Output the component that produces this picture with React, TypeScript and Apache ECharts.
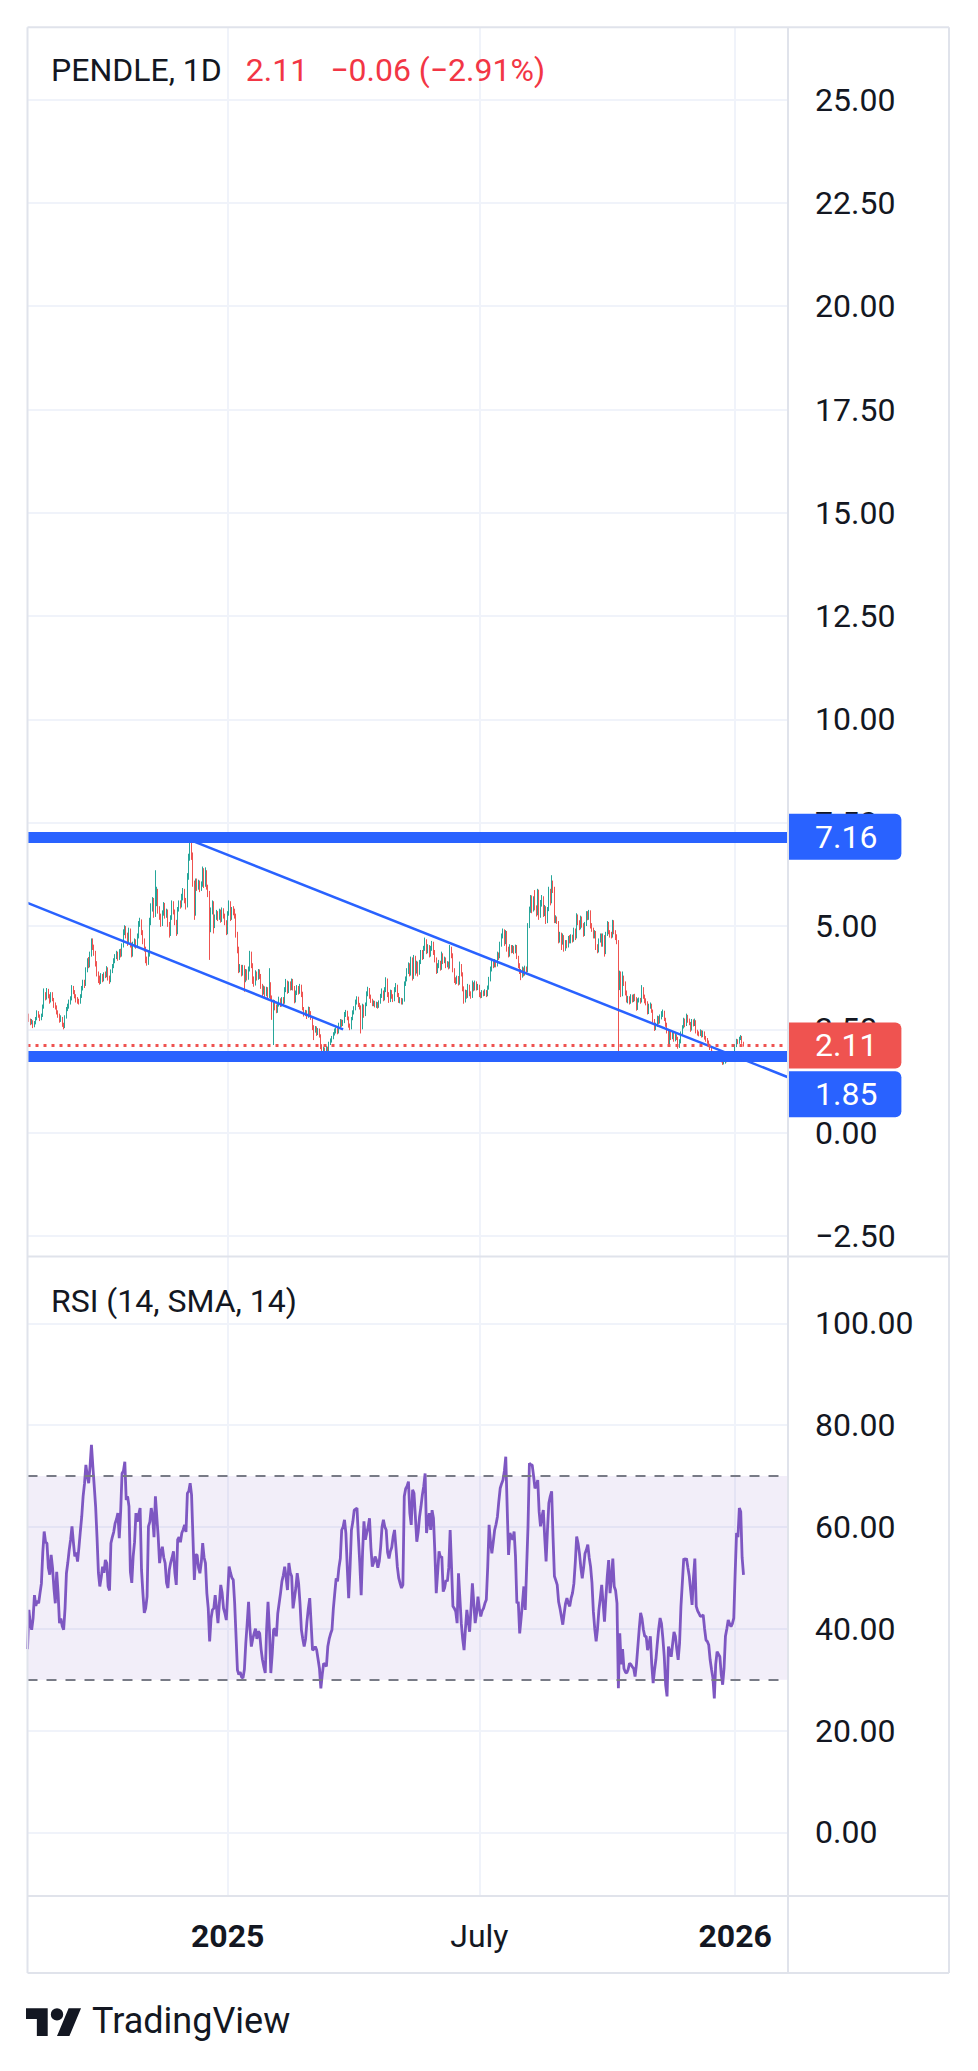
import React, { useEffect, useRef } from "react";
import * as echarts from "echarts";

// ---------- data ----------
const START_UTC = Date.UTC(2024, 7, 10); // first visible day
const AXIS_DAYS = 548; // visible time span incl. empty space on the right
const FIRST_OPEN = 2.8;

const closes = [
  2.85,2.72,2.66,2.70,2.58,2.65,2.76,2.90,2.82,2.75,
  2.84,3.05,3.35,3.28,3.45,3.30,3.18,3.36,3.22,3.10,
  3.05,2.92,2.85,2.72,2.78,2.62,2.55,2.80,2.98,3.05,
  3.15,3.25,3.52,3.40,3.30,3.22,3.18,3.15,3.30,3.48,
  3.62,3.58,3.95,4.15,4.05,4.30,4.62,4.50,4.35,4.10,
  3.85,3.72,3.65,3.78,3.70,3.82,3.80,3.98,3.75,3.68,
  3.90,4.02,4.15,4.25,4.32,4.22,4.38,4.30,4.52,4.85,
  4.95,4.78,4.60,4.90,4.55,4.30,4.55,4.62,4.52,4.75,
  5.05,5.12,4.85,4.65,4.45,4.20,4.10,4.30,5.10,5.45,
  5.62,5.30,5.55,5.85,5.40,5.25,5.05,5.30,5.50,5.25,
  5.35,5.05,4.80,5.20,5.55,5.35,5.10,4.85,5.40,5.55,
  5.50,5.70,5.85,5.62,5.48,6.20,6.65,6.95,6.70,6.05,
  5.30,6.05,5.95,6.05,5.90,6.00,6.35,6.00,6.30,5.95,
  5.80,4.95,5.35,5.55,5.00,5.20,5.30,5.20,5.35,5.15,
  5.38,5.25,5.10,4.85,5.30,5.55,5.20,5.40,5.35,5.25,
  4.80,4.45,3.95,4.00,3.85,4.00,3.70,3.90,3.75,3.95,
  4.35,4.05,3.70,3.60,3.85,3.75,3.90,3.80,3.55,3.40,
  3.50,3.35,3.48,3.30,3.60,3.28,2.90,3.15,3.05,2.95,
  3.10,3.20,3.10,3.22,3.15,3.45,3.65,3.42,3.60,3.50,
  3.68,3.50,3.20,3.38,3.50,3.40,3.55,3.35,3.00,2.88,
  2.92,2.82,3.00,2.90,2.78,2.55,2.48,2.52,2.40,2.48,
  2.35,2.10,1.95,2.02,2.00,2.05,1.98,2.15,2.22,2.30,
  2.38,2.45,2.50,2.42,2.60,2.70,2.62,2.68,2.85,2.92,
  2.78,2.60,2.52,2.75,2.90,3.00,3.15,3.25,3.10,3.05,
  2.55,3.05,2.85,3.10,3.35,3.48,3.30,3.20,3.12,3.15,
  3.08,3.12,3.05,3.15,3.30,3.40,3.25,3.45,3.70,3.35,
  3.20,3.40,3.30,3.22,3.45,3.55,3.35,3.20,3.22,3.15,
  3.20,3.60,3.70,3.90,4.05,3.85,4.20,3.75,4.25,3.90,
  4.10,3.85,4.12,4.35,4.25,4.45,4.65,4.40,4.50,4.30,
  4.45,4.58,4.38,4.20,3.90,4.05,4.12,3.98,4.30,4.15,
  4.20,4.05,4.10,4.00,4.45,4.30,3.95,3.70,3.65,3.75,
  3.62,4.05,3.85,3.50,3.20,3.40,3.30,3.55,3.38,3.30,
  3.60,3.48,3.62,3.50,3.55,3.35,3.30,3.40,3.35,3.42,
  3.32,3.50,3.70,3.95,4.10,4.05,4.15,4.05,4.30,4.25,
  4.55,4.75,4.88,4.60,4.85,4.45,4.30,4.50,4.40,4.48,
  4.38,4.50,4.25,4.05,3.90,3.80,3.95,3.85,3.98,3.90,
  5.00,5.40,5.70,5.40,5.65,5.45,5.30,5.85,5.25,5.55,
  5.70,5.30,5.45,5.10,5.40,5.85,5.60,6.05,5.90,5.15,
  5.20,5.10,4.65,4.80,4.60,4.75,4.45,4.60,4.52,4.70,
  4.62,4.75,4.65,4.90,4.72,5.25,5.10,4.95,5.20,5.00,
  4.80,5.05,5.30,5.20,5.35,5.00,4.92,4.75,4.85,4.50,
  4.40,4.65,4.78,4.55,4.75,4.35,4.80,5.05,4.85,4.80,
  4.75,5.10,4.85,4.75,4.62,3.55,3.85,3.35,3.75,3.62,
  3.40,3.20,3.25,3.15,3.30,3.20,3.30,3.25,3.00,3.20,
  3.22,3.18,3.50,3.30,3.20,3.15,2.90,3.05,3.10,2.95,
  2.72,2.52,2.60,2.78,2.68,2.80,2.85,2.92,2.75,2.62,
  2.45,2.12,2.45,2.30,2.40,2.25,2.35,2.30,2.08,2.20,
  2.40,2.55,2.72,2.60,2.82,2.72,2.65,2.50,2.70,2.62,
  2.70,2.45,2.40,2.38,2.45,2.35,2.42,2.30,2.25,2.20,
  2.12,2.05,1.95,1.85,1.80,1.90,1.82,1.78,1.88,1.75,
  1.68,1.70,1.78,1.74,1.82,1.85,1.88,1.92,1.90,2.10,
  2.22,2.18,2.28,2.32,2.17,2.11,
];

const highs = [
  2.92,2.88,2.76,2.75,2.72,2.70,2.80,2.96,2.94,2.86,
  2.88,3.10,3.49,3.40,3.50,3.48,3.35,3.40,3.40,3.26,
  3.15,3.08,2.96,2.88,2.84,2.80,2.66,2.84,3.04,3.12,
  3.22,3.30,3.57,3.55,3.45,3.35,3.28,3.24,3.35,3.55,
  3.70,3.70,4.00,4.22,4.25,4.38,4.70,4.70,4.55,4.40,
  4.15,3.90,3.80,3.86,3.84,3.88,3.90,4.03,4.00,3.80,
  3.95,4.08,4.22,4.32,4.40,4.38,4.44,4.45,4.58,4.92,
  5.02,5.00,4.84,4.96,4.94,4.60,4.62,4.70,4.68,4.82,
  5.12,5.20,5.16,4.90,4.70,4.50,4.26,4.38,5.20,5.55,
  5.70,5.68,6.35,5.95,5.90,5.48,5.30,5.38,5.58,5.56,
  5.42,5.40,5.10,5.26,5.62,5.60,5.40,5.15,5.46,5.62,
  5.62,5.78,5.92,5.90,5.68,6.28,6.75,7.05,7.12,6.78,
  6.10,6.15,6.15,6.12,6.10,6.08,6.44,6.40,6.42,6.35,
  6.00,5.85,5.45,5.62,5.60,5.28,5.39,5.36,5.42,5.40,
  5.45,5.43,5.30,5.14,5.36,5.62,5.60,5.46,5.48,5.42,
  5.30,4.86,4.50,4.08,4.06,4.06,4.05,3.96,3.95,4.02,
  4.40,4.38,4.10,3.78,3.93,3.90,3.96,3.95,3.84,3.60,
  3.56,3.54,3.53,3.52,3.98,3.64,3.32,3.22,3.21,3.10,
  3.16,3.29,3.25,3.28,3.28,3.52,3.72,3.68,3.66,3.66,
  3.73,3.72,3.55,3.44,3.57,3.55,3.60,3.58,3.41,3.04,
  2.97,2.96,3.05,3.04,2.94,2.80,2.60,2.58,2.57,2.53,
  2.52,2.38,2.14,2.08,2.06,2.10,2.08,2.20,2.28,2.34,
  2.43,2.52,2.55,2.53,2.66,2.75,2.74,2.73,2.92,2.97,
  2.95,2.81,2.64,2.80,2.96,3.06,3.22,3.30,3.29,3.14,
  3.08,3.12,3.10,3.15,3.42,3.53,3.50,3.34,3.24,3.20,
  3.19,3.17,3.16,3.20,3.36,3.49,3.44,3.52,3.76,3.73,
  3.40,3.46,3.45,3.35,3.52,3.62,3.58,3.38,3.28,3.26,
  3.25,3.66,3.78,3.98,4.12,4.10,4.26,4.24,4.30,4.28,
  4.16,4.14,4.18,4.42,4.42,4.52,4.72,4.68,4.56,4.54,
  4.52,4.64,4.62,4.42,4.24,4.10,4.18,4.16,4.38,4.34,
  4.26,4.24,4.15,4.14,4.54,4.50,4.34,3.98,3.76,3.80,
  3.79,4.14,4.08,3.88,3.54,3.46,3.45,3.60,3.58,3.42,
  3.68,3.64,3.68,3.66,3.60,3.58,3.40,3.45,3.44,3.47,
  3.45,3.56,3.77,4.02,4.18,4.16,4.20,4.18,4.38,4.36,
  4.62,4.82,4.94,4.92,4.90,4.88,4.50,4.56,4.54,4.54,
  4.52,4.55,4.54,4.28,4.10,3.96,4.02,4.00,4.04,4.02,
  5.07,5.47,5.75,5.74,5.72,5.87,5.50,5.90,5.88,5.63,
  5.75,5.72,5.51,5.48,5.46,5.95,5.90,6.23,6.10,5.95,
  5.26,5.23,5.12,4.86,4.84,4.82,4.78,4.66,4.66,4.76,
  4.78,4.80,4.79,4.96,4.94,5.31,5.28,5.14,5.25,5.23,
  5.07,5.10,5.36,5.36,5.39,5.38,5.07,4.96,4.90,4.88,
  4.56,4.70,4.82,4.82,4.82,4.78,4.86,5.12,5.10,4.90,
  4.86,5.15,5.14,4.90,4.80,4.66,3.92,3.90,3.90,3.80,
  3.66,3.44,3.31,3.30,3.35,3.34,3.35,3.36,3.28,3.25,
  3.27,3.26,3.57,3.52,3.34,3.25,3.18,3.12,3.15,3.12,
  2.98,2.75,2.66,2.83,2.82,2.86,2.94,2.98,2.95,2.78,
  2.66,2.48,2.50,2.48,2.46,2.43,2.40,2.38,2.32,2.26,
  2.45,2.60,2.78,2.76,2.88,2.85,2.76,2.68,2.75,2.74,
  2.76,2.72,2.49,2.45,2.50,2.48,2.47,2.45,2.34,2.29,
  2.23,2.15,2.08,1.98,1.89,1.94,1.93,1.86,1.92,1.90,
  1.78,1.74,1.82,1.81,1.86,1.89,1.92,1.96,1.95,2.14,
  2.27,2.26,2.32,2.36,2.34,2.20,
];

const lows = [
  2.74,2.68,2.60,2.62,2.53,2.55,2.62,2.72,2.78,2.70,
  2.72,2.80,3.00,3.20,3.22,3.25,3.12,3.15,3.18,3.02,
  2.98,2.86,2.78,2.66,2.68,2.56,2.50,2.53,2.76,2.94,
  3.00,3.10,3.20,3.35,3.25,3.15,3.12,3.10,3.12,3.26,
  3.44,3.50,3.55,3.88,3.98,4.00,4.26,4.42,4.28,4.02,
  3.78,3.62,3.58,3.60,3.64,3.66,3.74,3.76,3.68,3.60,
  3.64,3.86,3.98,4.10,4.20,4.16,4.18,4.24,4.26,4.48,
  4.78,4.70,4.52,4.56,4.48,4.24,4.26,4.48,4.45,4.48,
  4.70,4.98,4.78,4.56,4.38,4.10,4.04,4.06,4.26,5.02,
  5.35,5.20,5.22,5.48,5.30,5.15,4.98,5.00,5.25,5.18,
  5.20,4.98,4.72,4.76,5.15,5.28,5.02,4.76,4.80,5.35,
  5.42,5.45,5.62,5.55,5.40,5.45,6.12,6.58,6.60,5.95,
  5.15,5.25,5.85,5.88,5.82,5.85,5.95,5.92,5.95,5.88,
  5.70,4.18,4.85,5.28,4.82,4.95,5.15,5.12,5.15,5.08,
  5.10,5.18,5.02,4.78,4.80,5.25,5.12,5.15,5.26,5.18,
  4.72,4.34,3.86,3.88,3.78,3.80,3.41,3.64,3.68,3.70,
  3.90,3.98,3.60,3.53,3.56,3.68,3.70,3.72,3.48,3.30,
  3.34,3.28,3.30,3.21,3.26,3.20,2.73,2.12,2.96,2.89,
  2.90,3.05,3.04,3.05,3.08,3.12,3.40,3.36,3.38,3.44,
  3.45,3.44,3.13,3.15,3.33,3.34,3.36,3.28,2.96,2.81,
  2.82,2.75,2.78,2.84,2.73,2.48,2.24,2.42,2.34,2.36,
  2.30,2.02,1.88,1.92,1.95,1.96,1.93,1.96,2.12,2.18,
  2.26,2.35,2.40,2.38,2.40,2.55,2.56,2.58,2.65,2.80,
  2.72,2.54,2.48,2.50,2.72,2.86,2.96,3.10,3.04,2.98,
  2.40,2.50,2.78,2.82,3.06,3.30,3.24,3.14,3.06,3.06,
  3.03,3.02,3.00,3.02,3.12,3.26,3.18,3.20,3.40,3.28,
  3.14,3.16,3.24,3.16,3.18,3.40,3.28,3.14,3.13,3.10,
  3.10,3.17,3.55,3.66,3.84,3.78,3.80,3.68,3.72,3.80,
  3.85,3.78,3.82,4.08,4.18,4.20,4.40,4.32,4.34,4.24,
  4.26,4.40,4.30,4.12,3.84,3.86,3.98,3.92,3.94,4.08,
  4.10,3.98,4.00,3.95,3.97,4.22,3.88,3.62,3.58,3.60,
  3.56,3.58,3.78,3.42,3.12,3.15,3.24,3.26,3.30,3.24,
  3.26,3.42,3.44,3.44,3.45,3.28,3.25,3.26,3.30,3.31,
  3.28,3.30,3.46,3.66,3.90,3.98,4.00,4.00,4.02,4.18,
  4.22,4.50,4.70,4.52,4.56,4.38,4.24,4.26,4.34,4.35,
  4.32,4.34,4.20,3.98,3.84,3.69,3.75,3.78,3.80,3.84,
  3.88,4.95,5.32,5.31,5.35,5.38,5.23,5.26,5.15,5.20,
  5.47,5.22,5.24,5.05,5.07,5.36,5.50,5.55,5.80,5.07,
  5.07,5.05,4.58,4.60,4.42,4.55,4.38,4.40,4.46,4.48,
  4.58,4.58,4.60,4.62,4.66,4.70,5.02,4.90,4.92,4.96,
  4.74,4.76,5.00,5.14,5.15,4.94,4.86,4.70,4.70,4.42,
  4.34,4.36,4.60,4.50,4.50,4.26,4.32,4.76,4.80,4.72,
  4.70,4.72,4.80,4.66,4.56,1.92,3.45,3.28,3.30,3.55,
  3.32,3.15,3.13,3.10,3.12,3.15,3.16,3.18,2.95,2.97,
  3.15,3.12,3.15,3.24,3.13,3.08,2.86,2.87,3.00,2.90,
  2.66,2.46,2.48,2.56,2.62,2.64,2.74,2.80,2.70,2.56,
  2.40,2.08,2.10,2.24,2.26,2.20,2.21,2.24,2.03,2.05,
  2.16,2.36,2.52,2.55,2.58,2.66,2.60,2.44,2.47,2.57,
  2.58,2.40,2.35,2.33,2.34,2.30,2.31,2.25,2.20,2.15,
  2.07,2.00,1.91,1.80,1.75,1.77,1.77,1.74,1.74,1.70,
  1.64,1.65,1.67,1.70,1.72,1.79,1.82,1.85,1.86,1.88,
  2.07,2.14,2.15,2.24,2.15,2.08,
];

const rsiValues = [
  36,43.7,41,39.8,42,46.6,44.5,45.5,45,47,
  48.9,55,59.1,57,56.8,52,50.6,54.5,52,48,
  45,51.2,47,41.1,42,40.5,39.8,44,50.9,53,
  55.5,57.5,60.1,57,54.2,55,53.2,56,59.1,62,
  66,68.5,72.2,70,68.6,72,76.1,71.9,68,64,
  58,51,48.3,50,52.2,51,53.5,52.9,48.3,47.5,
  56.8,58,59,60.7,61.5,62.7,57.8,63,70.5,71,
  72.8,65.3,66,64,51.2,49,54.2,57,62.7,61,
  62.5,63.7,51.6,47,43.1,44,46.3,60.1,61,63.7,
  62,58,66,62,58.1,52.9,55,56.1,54,52.9,
  49,48,51.6,53,54,55.2,51,48.6,57.5,58,
  57,58.8,59.5,60.4,59,66.6,67,68.6,66.3,58,
  49.6,54.5,54.5,52,50.9,53,56.8,54,52.9,47,
  44,37.5,42,43.7,44,46.6,44,41.1,45,48.6,
  47,44,43,41.7,47,52.2,51,50,49.6,45,
  38.5,31.9,31,31.5,30.5,30.3,32,37.1,41,45.3,
  40,36.5,38,39.1,40,38,39.5,39.1,36,33.9,
  32.5,31.3,40,45.3,40,31.3,35,39.8,40,38.5,
  43,45,47,49.3,50.5,52.2,50,47.6,52.9,51,
  50.3,44,46,48,50.9,48.9,45,39.8,38,36.5,
  38,41.4,44,46,41,35.8,36,36.5,35.8,34,
  32.2,28.3,31,33.2,33,32.6,36.5,38,39,39.8,
  44,47,49.9,49.3,52,53.8,59.4,60,61.4,58.8,
  52,46,52,59.4,61,63.3,63.5,63.7,58,52.9,
  46.6,55,61.1,57.5,58.8,60,61.7,56,52.2,53,
  54.2,53.5,52,53.2,56,60,61.4,60,59.4,55,
  53.8,55.2,56,58.1,59.4,56,52.2,50,48.9,48,
  48.6,66,67.5,68,68.9,62.7,60.4,67.3,66.6,62,
  57.1,59,62,64,66.3,68,70.5,58.8,61,62.7,
  59.4,63.3,61.7,55,47,51,55.2,54,54.2,47.3,
  48,49.6,49.3,52,59.4,52,44.4,44,43.4,41.1,
  50.9,46,41.1,38,35.8,40,43.7,41.5,39.4,44,
  48.9,45,41.1,43,46.3,44,42.4,43.5,44,45,
  45.7,52,60.4,57,54.8,57,59.4,60.5,62,65,
  67.6,68.5,69.2,71,73.8,64,54.5,58.8,58,57.5,
  59.1,54.2,45,45.3,39.1,42,45,48.3,43.7,52,
  60.1,72.5,72.2,72.2,70,67.6,68,69.2,63,60.1,
  62,63.3,58,53.2,59.4,64.7,66,67,58,50.3,
  49.5,48.6,45.3,44,42.4,40.8,43,45,46,45,
  44.4,46,47,48.9,53,58.1,56.8,54.8,52,49.9,
  52,54.8,55.5,56.5,54,52.2,49,43.4,40,37.5,
  40,43.7,46,48.6,45,41.4,46,50.3,53.5,47,
  50,53.8,48.3,47.5,45,28.3,39.1,33,36,32.2,
  31.5,31.3,32,33.2,33,32.5,32.2,30.6,33,36.5,
  40,43.1,42,39.8,38.5,38.5,35.8,37,38.5,33,
  29.3,31.9,34,37.1,40,42.1,41,38.1,34.5,29,
  26.7,36.5,35.5,34.5,37,39.4,38.5,36,33.9,37.1,
  44.4,49,53.8,53.5,53.8,52,50.3,47.5,44.7,50,
  53.8,44.4,43.5,43,42.4,42.5,42.7,40,37.8,37.5,
  36.8,33.9,32,30.3,26.3,33,35.5,35,34.5,31,
  29,32.2,38.5,40,41.7,41,40.4,41,42.1,51,
  58.8,58,63.7,63,54,50.6,
];

const priceTickLabels = [-2.5, 0, 2.5, 5, 7.5, 10, 12.5, 15, 17.5, 20, 22.5, 25];
const rsiTickLabels = [0, 20, 40, 60, 80, 100];
const timeLabels: Record<string, { text: string; bold: boolean }> = {
  "2025-01-01": { text: "2025", bold: true },
  "2025-07-01": { text: "July", bold: false },
  "2026-01-01": { text: "2026", bold: true },
};

const SYMBOL = "PENDLE, 1D";
const RSI_TITLE = "RSI (14, SMA, 14)";
const resistanceLevel = 7.16;
const supportLevel = 1.85;
const lastPrice = 2.11;
const priceChange = -0.06;
const priceChangePct = -2.91;
const lastRsi = 50.6;
const rsiUpper = 70;
const rsiLower = 30;
// trend line drawings: [day index, price]
const upperTrend = [[119, 7.055], [547, 1.34]];
const lowerTrend = [[0, 5.56], [227, 2.5]];

// ---------- styling / layout ----------
const FONT = "Roboto, 'Noto Sans', sans-serif";
const TEXT = "#131722";
const GRID_C = "#F0F3FA";
const FRAME_C = "#E0E3EB";
const BLUE = "#2962FF";
const RED = "#F23645";
const UP = "#26A69A";
const DOWN = "#EF5350";
const PURPLE = "#7E57C2";

const L = 27.5;
const AX = 788;
const R = 949;
const TOP = 27.3;
const SEP1 = 1256.6;
const SEP2 = 1896;
const BOT = 1973;

const LOGO_D =
  "M14 22H7V11H0V4h14v18zM28 22h-8l7.5-18h8L28 22zM24 8a4 4 0 1 1-8 0a4 4 0 1 1 8 0z";
echarts.graphic.registerShape("tvLogo", echarts.graphic.extendPath(LOGO_D, {}));

const fmt = (v: number, d = 2) => (v < 0 ? "\u2212" : "") + Math.abs(v).toFixed(d);
const isIn = (arr: number[], v: number) => arr.some((t) => Math.abs(t - v) < 1e-6);

const dates: string[] = [];
for (let i = 0; i < AXIS_DAYS; i++) {
  dates.push(new Date(START_UTC + i * 86400000).toISOString().slice(0, 10));
}
const isLabelDay = (_i: number, v: string) => !!timeLabels[v];

const candles = closes.map((c, i) => {
  const o = i === 0 ? FIRST_OPEN : closes[i - 1];
  return [o, c, Math.min(lows[i], o, c), Math.max(highs[i], o, c)];
});

const boxLabel = (bg: string, text: string, offset: number[] = [0, 0]) => ({
  show: true,
  position: "end",
  distance: 0,
  formatter: text,
  color: "#ffffff",
  backgroundColor: bg,
  padding: [7, 24, 7, 27],
  borderRadius: [0, 6, 6, 0],
  fontSize: 32,
  lineHeight: 32,
  fontWeight: "normal",
  fontFamily: FONT,
  offset,
});

function buildOption(): any {
  const frameLine = (x1: number, y1: number, x2: number, y2: number) => ({
    type: "line",
    silent: true,
    z: 50,
    shape: { x1, y1, x2, y2 },
    style: { stroke: FRAME_C, lineWidth: 2 },
  });
  const hdr = { fontSize: 32, lineHeight: 38, fontFamily: FONT, fontWeight: "normal" };
  return {
    animation: false,
    backgroundColor: "#ffffff",
    textStyle: { fontFamily: FONT },
    title: [
      {
        left: 51,
        top: 51,
        padding: 0,
        text:
          "{a|" + SYMBOL + "}{b|" + fmt(lastPrice) + "}{c|" + fmt(priceChange) + " (" + fmt(priceChangePct) + "%)}",
        textStyle: {
          fontWeight: "normal",
          rich: {
            a: { ...hdr, color: TEXT },
            b: { ...hdr, color: RED, padding: [0, 0, 0, 24] },
            c: { ...hdr, color: RED, padding: [0, 0, 0, 22] },
          },
        },
      },
      {
        left: 51,
        top: 1282,
        padding: 0,
        text: RSI_TITLE,
        textStyle: { ...hdr, color: TEXT },
      },
    ],
    grid: [
      { left: L, top: TOP, width: AX - L, height: SEP1 - TOP },
      { left: L, top: SEP1, width: AX - L, height: SEP2 - SEP1 },
    ],
    xAxis: [
      {
        type: "category",
        gridIndex: 0,
        data: dates,
        boundaryGap: false,
        axisLine: { show: false },
        axisTick: { show: false },
        axisLabel: { show: false },
        splitLine: { show: true, interval: isLabelDay, lineStyle: { color: GRID_C, width: 2 } },
      },
      {
        type: "category",
        gridIndex: 1,
        data: dates,
        boundaryGap: false,
        axisLine: { show: false },
        axisTick: { show: false },
        axisLabel: {
          show: true,
          interval: isLabelDay,
          margin: 24,
          formatter: (v: string) => {
            const t = timeLabels[v];
            if (!t) return "";
            return (t.bold ? "{y|" : "{m|") + t.text + "}";
          },
          rich: {
            y: { color: TEXT, fontSize: 32, lineHeight: 32, fontWeight: "bold", fontFamily: FONT },
            m: { color: TEXT, fontSize: 32, lineHeight: 32, fontFamily: FONT },
          },
        },
        splitLine: { show: true, interval: isLabelDay, lineStyle: { color: GRID_C, width: 2 } },
      },
    ],
    yAxis: [
      {
        type: "value",
        gridIndex: 0,
        position: "right",
        min: -3,
        max: 26.75,
        interval: 0.5,
        axisLine: { show: false },
        axisTick: { show: false },
        axisLabel: {
          margin: 27,
          color: TEXT,
          fontSize: 32,
          lineHeight: 32,
          fontFamily: FONT,
          formatter: (v: number) => (isIn(priceTickLabels, v) ? fmt(v) : ""),
        },
        splitLine: {
          show: true,
          lineStyle: { color: ["rgba(0,0,0,0)", GRID_C, "rgba(0,0,0,0)", "rgba(0,0,0,0)", "rgba(0,0,0,0)"], width: 2 },
        },
      },
      {
        type: "value",
        gridIndex: 1,
        position: "right",
        min: -12.5,
        max: 113.1,
        interval: 2.5,
        axisLine: { show: false },
        axisTick: { show: false },
        axisLabel: {
          margin: 27,
          color: TEXT,
          fontSize: 32,
          lineHeight: 32,
          fontFamily: FONT,
          formatter: (v: number) => (isIn(rsiTickLabels, v) ? fmt(v) : ""),
        },
        splitLine: {
          show: true,
          lineStyle: {
            color: [
              "rgba(0,0,0,0)", "rgba(0,0,0,0)", "rgba(0,0,0,0)", "rgba(0,0,0,0)",
              "rgba(0,0,0,0)", GRID_C, "rgba(0,0,0,0)", "rgba(0,0,0,0)",
            ],
            width: 2,
          },
        },
      },
    ],
    series: [
      {
        name: "levels",
        type: "line",
        xAxisIndex: 0,
        yAxisIndex: 0,
        data: [],
        z: 1,
        silent: true,
        markLine: {
          silent: true,
          symbol: ["none", "none"],
          animation: false,
          data: [
            { yAxis: resistanceLevel, lineStyle: { color: BLUE, width: 11, type: "solid" }, label: boxLabel(BLUE, fmt(resistanceLevel)) },
            { yAxis: supportLevel, lineStyle: { color: BLUE, width: 11, type: "solid" }, label: boxLabel(BLUE, fmt(supportLevel), [0, 38]) },
          ],
        },
      },
      {
        name: "PENDLE",
        type: "candlestick",
        xAxisIndex: 0,
        yAxisIndex: 0,
        data: candles,
        z: 2,
        barWidth: 1.2,
        itemStyle: { color: UP, color0: DOWN, borderColor: UP, borderColor0: DOWN, borderWidth: 1 },
      },
      {
        name: "drawings",
        type: "line",
        xAxisIndex: 0,
        yAxisIndex: 0,
        data: [],
        z: 3,
        silent: true,
        markLine: {
          silent: true,
          symbol: ["none", "none"],
          animation: false,
          lineStyle: { color: BLUE, width: 2.5, type: "solid" },
          label: { show: false },
          data: [
            [{ coord: upperTrend[0] }, { coord: upperTrend[1] }],
            [{ coord: lowerTrend[0] }, { coord: lowerTrend[1] }],
            { yAxis: lastPrice, lineStyle: { color: DOWN, width: 3, type: [3, 5] }, label: boxLabel(DOWN, fmt(lastPrice)) },
          ],
        },
      },
      {
        name: "rsiBand",
        type: "line",
        xAxisIndex: 1,
        yAxisIndex: 1,
        data: [],
        z: 1,
        silent: true,
        markArea: {
          silent: true,
          itemStyle: { color: "rgba(126,87,194,0.1)" },
          data: [[{ yAxis: rsiLower }, { yAxis: rsiUpper }]],
        },
        markLine: {
          silent: true,
          symbol: ["none", "none"],
          animation: false,
          label: { show: false },
          lineStyle: { color: "#787B86", width: 2.2, type: [10, 9] },
          data: [{ yAxis: rsiUpper }, { yAxis: rsiLower }],
        },
      },
      {
        name: "RSI",
        type: "line",
        xAxisIndex: 1,
        yAxisIndex: 1,
        data: rsiValues,
        z: 3,
        showSymbol: false,
        symbol: "none",
        lineStyle: { color: PURPLE, width: 2.8 },
        markLine: {
          silent: true,
          symbol: ["none", "none"],
          animation: false,
          data: [{ yAxis: lastRsi, lineStyle: { opacity: 0, width: 0 }, label: boxLabel(PURPLE, fmt(lastRsi)) }],
        },
      },
    ],
    graphic: [
      frameLine(L, TOP, R, TOP),
      frameLine(L, TOP, L, BOT),
      frameLine(R, TOP, R, BOT),
      frameLine(L, BOT, R, BOT),
      frameLine(AX, TOP, AX, BOT),
      frameLine(L, SEP1, R, SEP1),
      frameLine(L, SEP2, R, SEP2),
      {
        type: "tvLogo",
        x: 26,
        y: 2002,
        scaleX: 1.55,
        scaleY: 1.55,
        silent: true,
        style: { fill: TEXT },
      },
      {
        type: "text",
        x: 92,
        y: 2021,
        silent: true,
        style: {
          text: "TradingView",
          fill: TEXT,
          font: "normal 36px " + FONT,
          textVerticalAlign: "middle",
          verticalAlign: "middle",
        },
      },
    ],
  };
}

export default function App() {
  const ref = useRef<HTMLDivElement>(null);
  useEffect(() => {
    if (!ref.current) return;
    const chart = echarts.init(ref.current, undefined, { renderer: "svg" });
    chart.setOption(buildOption());
    return () => chart.dispose();
  }, []);
  return (
    <div
      ref={ref}
      style={{ position: "absolute", left: 0, top: 0, width: 978, height: 2071, background: "#ffffff" }}
    />
  );
}
